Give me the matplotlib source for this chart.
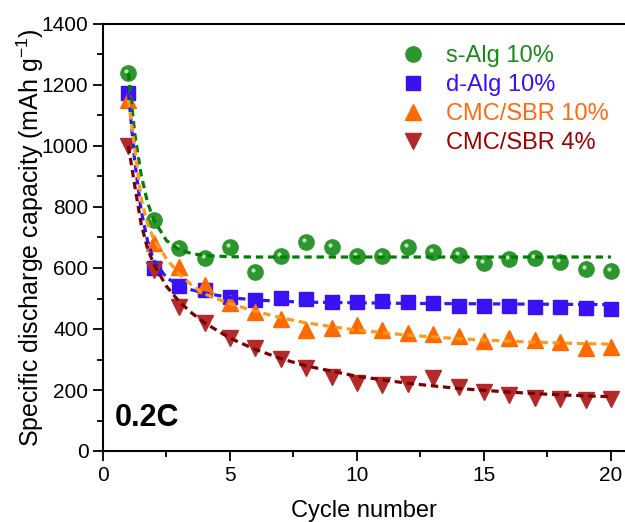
import matplotlib
matplotlib.use("Agg")
import matplotlib.pyplot as plt
from matplotlib.ticker import MultipleLocator
from matplotlib.transforms import ScaledTranslation

plt.rcParams["font.family"] = ["Liberation Sans", "DejaVu Sans"]
plt.rcParams["mathtext.fontset"] = "custom"
plt.rcParams["mathtext.rm"] = "Liberation Sans"

cycles = list(range(1, 21))

s_alg = [1240, 757, 665, 634, 669, 588, 640, 685, 669, 639,
         639, 670, 652, 642, 617, 630, 633, 619, 598, 590]
d_alg = [1174, 600, 540, 528, 505, 496, 503, 500, 488, 487,
         491, 488, 484, 476, 476, 476, 472, 473, 470, 465]
cmc_10 = [1150, 682, 603, 544, 485, 456, 433, 398, 404, 413,
          397, 387, 384, 376, 361, 369, 364, 357, 339, 341]
cmc_4 = [1000, 595, 472, 419, 372, 337, 302, 272, 243, 223,
         216, 219, 238, 210, 194, 184, 174, 171, 167, 170]

# fitted trend lines
fit_x = [1, 1.25, 1.5, 1.75, 2, 2.5, 3, 3.5, 4, 5, 6, 7, 8, 10, 12, 14, 16, 18, 20]
fit_s_alg = [1240, 1041, 906, 816, 757, 690, 660, 647, 641, 637, 636, 636, 636,
             636, 636, 636, 636, 636, 636]
fit_d_alg = [1175, 950, 790, 690, 625, 568, 543, 528, 518, 503, 495, 491, 488,
             486, 484, 483, 482, 481, 480]
fit_cmc_10 = [1150, 990, 830, 745, 695, 630, 580, 543, 515, 483, 458, 437, 420,
              396, 380, 368, 360, 354, 350]
fit_cmc_4 = [1000, 870, 745, 665, 612, 540, 490, 452, 420, 370, 333, 303, 279,
             245, 222, 205, 193, 184, 178]

labels = ["s-Alg 10%", "d-Alg 10%", "CMC/SBR 10%", "CMC/SBR 4%"]

fig = plt.figure(figsize=(6.25, 5.22), dpi=100)
ax = fig.add_axes([103 / 625, 1 - 451 / 522, 1 - 103 / 625, 427 / 522])

ax.plot(cycles, s_alg, "o", ms=11, color="#2e962e", mec="#2e962e", label=labels[0], zorder=3)
# little highlight on the green balls
shift = ax.transData + ScaledTranslation(-2 / 100, 2 / 100, fig.dpi_scale_trans)
ax.plot(cycles, s_alg, "o", ms=3, color="#b8e6b8", mec="none", zorder=3.1, transform=shift)
ax.plot(cycles, d_alg, "s", ms=9.5, color="#3d10f2", mec="#3d10f2", label=labels[1], zorder=3)
ax.plot(cycles, cmc_10, "^", ms=11.5, color="#ff6a00", mec="#ff6a00", label=labels[2], zorder=3)
ax.plot(cycles, cmc_4, "v", ms=11.5, color="#b32a2a", mec="#b32a2a", label=labels[3], zorder=3)

dash = (2.3, 1.5)
ax.plot(fit_x, fit_s_alg, "--", color="#008000", lw=2.3, dashes=dash, zorder=4)
ax.plot(fit_x, fit_d_alg, "--", color="#2a1aff", lw=2.3, dashes=dash, zorder=4)
ax.plot(fit_x, fit_cmc_10, "--", color="#ff9a1a", lw=2.3, dashes=dash, zorder=4)
ax.plot(fit_x, fit_cmc_4, "--", color="#7a0000", lw=2.3, dashes=dash, zorder=4)

ax.set_xlim(0, 520 / 25.3)
ax.set_ylim(0, 1400)
ax.xaxis.set_major_locator(MultipleLocator(5))
ax.xaxis.set_minor_locator(MultipleLocator(2.5))
ax.yaxis.set_major_locator(MultipleLocator(200))
ax.yaxis.set_minor_locator(MultipleLocator(100))
ax.tick_params(which="major", direction="out", length=7, width=1.3, labelsize=15)
ax.tick_params(which="minor", direction="out", length=4, width=1.3)
ax.spines["right"].set_visible(False)
for s in ["left", "bottom", "top"]:
    ax.spines[s].set_linewidth(1.5)

ax.set_xlabel("Cycle number", fontsize=17, labelpad=11)
ax.set_ylabel("Specific discharge capacity (mAh g$^{-1}$)", fontsize=18, labelpad=-3)

ax.text(0.023, 0.078, "0.2C", transform=ax.transAxes, fontsize=22,
        fontweight="bold", va="center", ha="left")

leg = ax.legend(loc="upper right", bbox_to_anchor=(1.01, 1.0), frameon=False,
                fontsize=17, handletextpad=0.8, labelspacing=0.3, handlelength=1.2)
text_colors = ["#1a8a1a", "#3b10f5", "#ff6a10", "#a00000"]
for t, c in zip(leg.get_texts(), text_colors):
    t.set_color(c)

fig.savefig("out.png", dpi=100)
